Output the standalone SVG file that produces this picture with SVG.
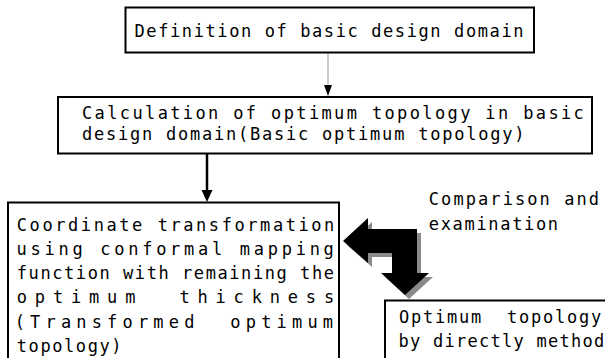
<svg xmlns="http://www.w3.org/2000/svg" width="605" height="358" viewBox="0 0 605 358">
<style>
  .box { fill: #fff; stroke: #000; stroke-width: 2; }
  .t { font-family: "DejaVu Sans Mono", "Liberation Mono", monospace; font-size: 17px; fill: #000; white-space: pre; }
</style>
<rect width="605" height="358" fill="#fff"/>
<g id="connectors">
  <line x1="328" y1="53.5" x2="328" y2="86" stroke="#9a9a9a" stroke-width="1"/>
  <polygon points="324,85 332,85 328,96" fill="#000"/>
  <line x1="207" y1="154" x2="207" y2="191" stroke="#000" stroke-width="2.5"/>
  <polygon points="201.5,190 212.5,190 207,202" fill="#000"/>
  <g id="comparison-arrow">
    <path transform="translate(4,4)" fill="#8a8a8a" d="M343,241 L368,218 L368,229 L417,229 L417,273 L429,273 L405,295 L381,273 L392,273 L392,253 L368,253 L368,263 Z"/>
    <path fill="#000" d="M343,241 L368,218 L368,229 L417,229 L417,273 L429,273 L405,295 L381,273 L392,273 L392,253 L368,253 L368,263 Z"/>
  </g>
</g>
<g id="node-definition">
  <rect class="box" x="125.5" y="7.5" width="408.5" height="45"/>
  <text class="t" x="134.5" y="37" letter-spacing="1.6">Definition of basic design domain</text>
</g>
<g id="node-calculation">
  <rect class="box" x="58" y="97" width="534" height="56.5"/>
  <text class="t" x="82" y="118.5" letter-spacing="2.37">Calculation of optimum topology in basic</text>
  <text class="t" x="82" y="140" letter-spacing="1.77">design domain(Basic optimum topology)</text>
</g>
<g id="node-transformation">
  <rect class="box" x="8" y="202.5" width="331" height="170"/>
  <text class="t" x="16.8" y="230.7" letter-spacing="2.57">Coordinate transformation</text>
  <text class="t" x="16.6" y="254.9" letter-spacing="3.72">using conformal mapping</text>
  <text class="t" x="16.8" y="279.1" letter-spacing="1.57">function with remaining the</text>
  <text class="t" x="16.8" y="303.3" letter-spacing="7.83">optimum  thickness</text>
  <text class="t" x="14.7" y="327.5" letter-spacing="5.17">(Transformed  optimum</text>
  <text class="t" x="16.8" y="351.7" letter-spacing="1.57">topology)</text>
</g>
<g id="label-comparison">
  <text class="t" x="428.8" y="205" letter-spacing="2.07">Comparison and</text>
  <text class="t" x="428.8" y="230" letter-spacing="1.67">examination</text>
</g>
<g id="node-direct">
  <rect class="box" x="385" y="300.5" width="240" height="80"/>
  <text class="t" x="399" y="322.5" letter-spacing="1.77">Optimum  topology</text>
  <text class="t" x="398.5" y="346.5" letter-spacing="1.27">by directly method</text>
</g>
</svg>
